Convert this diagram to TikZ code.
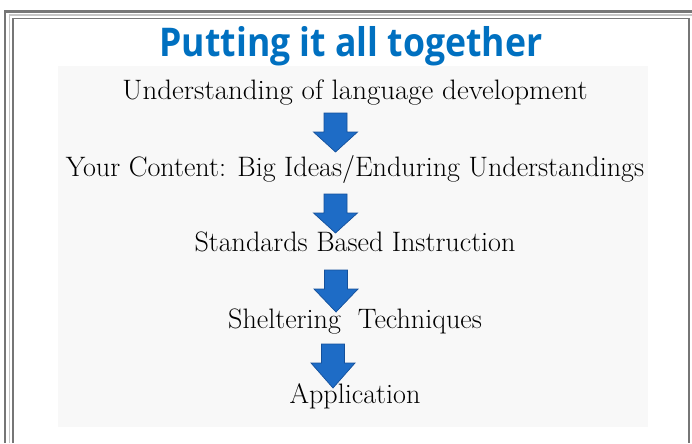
\documentclass[tikz,border=0pt]{standalone}
\usepackage{fontspec}
\usepackage{graphicx}
\newfontfamily\headfont{Open Sans}
\definecolor{framegray}{RGB}{118,118,118}
\definecolor{headblue}{RGB}{0,112,192}
\definecolor{arrowblue}{RGB}{30,108,198}
\definecolor{arrowedge}{RGB}{20,80,155}
\definecolor{panelgray}{RGB}{248,248,248}
\tikzset{
  steptext/.style={anchor=base, inner sep=0pt, font=\fontsize{16}{19}\selectfont},
  blockarrow/.style={fill=arrowblue, draw=arrowedge, line width=0.4pt, line join=miter},
}
\begin{document}
\begin{tikzpicture}[x=0.02cm, y=-0.02cm]
  \useasboundingbox (0,0) rectangle (692,443);
  % Rahmen
  \draw[line width=1.7pt, framegray] (5,443) |- (692,11.5);
  \draw[line width=0.6pt, gray!45] (9.5,443) |- (692,15);
  \draw[line width=1.1pt, framegray] (13,443) |- (689,18.5) -- (689,443);
  % Hintergrund
  \fill[panelgray] (58,66) rectangle (648,427);
  % Titel
  \node[anchor=base, inner sep=0pt, text=headblue] (title) at (351,56)
    {\scalebox{0.9}[1]{\headfont\bfseries\fontsize{22.5}{26}\selectfont Putting it all together}};
  % Stufen
  \node[steptext] (devel) at (355,99) {\scalebox{1.03}[1]{Understanding of language development}};
  \node[steptext] (content) at (355,176) {Your Content: Big Ideas/Enduring Understandings};
  \node[steptext] (standards) at (355,251) {Standards Based Instruction};
  \node[steptext] (shelter) at (355,328) {Sheltering\ \ Techniques};
  \node[steptext] (applic) at (355,403) {Application};
  % Pfeile
  \foreach \cx/\ytop/\ytip in {335.5/113/152, 335.5/194/233, 336/270/312, 333/344/388}
    \draw[blockarrow] ({\cx-11.5},\ytop) -- ({\cx+11.5},\ytop) -- ({\cx+11.5},{\ytop+19})
      -- ({\cx+22},{\ytop+19}) -- (\cx,\ytip) -- ({\cx-22},{\ytop+19})
      -- ({\cx-11.5},{\ytop+19}) -- cycle;
\end{tikzpicture}
\end{document}
